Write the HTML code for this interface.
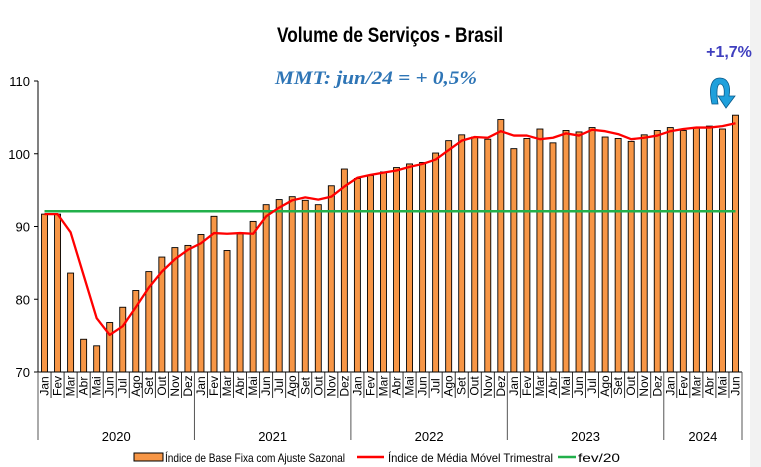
<!DOCTYPE html>
<html><head><meta charset="utf-8"><style>
html,body{margin:0;padding:0;background:#fff}
svg{display:block;font-family:"Liberation Sans Narrow","Liberation Sans",sans-serif}
</style></head><body>
<svg id="chart" width="761" height="467" viewBox="0 0 761 467">
<rect x="750" y="0" width="11" height="467" fill="#f2f2f2"/>
<text x="390" y="42" text-anchor="middle" font-size="21" font-weight="bold" fill="#000" textLength="226" lengthAdjust="spacingAndGlyphs">Volume de Serviços - Brasil</text>
<text x="376" y="84" text-anchor="middle" font-family="Liberation Serif, serif" font-size="19" font-style="italic" font-weight="bold" fill="#2e75b6" textLength="202" lengthAdjust="spacingAndGlyphs">MMT: jun/24 = + 0,5%</text>
<text x="729" y="57" text-anchor="middle" font-family="Liberation Sans, sans-serif" font-size="16" font-weight="bold" fill="#3f3fbf">+1,7%</text>
<g>
<path d="M712,104 C708,86 712,78 720,78 C728,78 731,86 729,96 L735,96 L726,108 L718,96 L724,96 C725,88 723,84 720,84 C717,84 716,92 718,104 Z" fill="#1fa0dc" stroke="#0a5a8a" stroke-width="0.8"/>
</g>
<g id="plot"></g>
<g id="xaxis"></g>
<g id="legend">
<rect x="134" y="453" width="29" height="8" fill="#f79646" stroke="#000" stroke-width="1"/>
<text x="165" y="462" font-size="12" textLength="180" lengthAdjust="spacingAndGlyphs">Índice de Base Fixa com Ajuste Sazonal</text>
<line x1="357" y1="457" x2="384" y2="457" stroke="#ff0000" stroke-width="2.5"/>
<text x="388" y="462" font-size="12" textLength="165" lengthAdjust="spacingAndGlyphs">Índice de Média Móvel Trimestral</text>
<line x1="558" y1="457" x2="576" y2="457" stroke="#22b04b" stroke-width="2.5"/>
<text x="578" y="462" font-size="12" textLength="42" lengthAdjust="spacingAndGlyphs">fev/20</text>
</g>
</svg>
<script>
const months = ["Jan","Fev","Mar","Abr","Mai","Jun","Jul","Ago","Set","Out","Nov","Dez"];
const years = ["2020","2021","2022","2023","2024"];
const indexValues = [91.7,91.7,83.6,74.5,73.6,76.8,78.9,81.2,83.8,85.8,87.1,87.4,
 88.9,91.4,86.7,89.0,90.7,93.0,93.7,94.1,93.6,93.0,95.6,97.9,
 96.6,97.0,97.5,98.1,98.6,98.8,100.1,101.8,102.6,102.3,102.0,104.7,
 100.7,102.1,103.4,101.5,103.2,103.0,103.6,102.3,102.1,101.7,102.6,103.2,
 103.6,103.2,103.6,103.8,103.4,105.3];
const mmtValues = [91.7,91.7,89.2,83.3,77.4,75.1,76.3,78.9,81.6,83.8,85.5,86.8,
 87.7,89.1,89.0,89.1,89.0,91.4,92.6,93.6,94.0,93.7,94.1,95.5,
 96.7,97.1,97.4,97.7,98.2,98.6,99.2,100.5,101.8,102.3,102.2,103.1,
 102.5,102.5,102.0,102.2,102.8,102.5,103.3,103.1,102.7,102.0,102.2,102.5,
 103.1,103.4,103.6,103.6,103.8,104.2];
const fev20Value = 92.1;
const yTicks = [70,80,90,100,110];

const NS="http://www.w3.org/2000/svg";
const X0=38, X1=742, Y0=372, Y1=81, VMIN=70, VMAX=110;
const n=indexValues.length, step=(X1-X0)/n;
const xC=i=>X0+step*(i+0.5);
const yS=v=>Y0-(v-VMIN)/(VMAX-VMIN)*(Y0-Y1);
function mk(tag,attrs,parent){const e=document.createElementNS(NS,tag);for(const k in attrs)e.setAttribute(k,attrs[k]);parent.appendChild(e);return e;}
const plot=document.getElementById('plot'), xa=document.getElementById('xaxis');

// y axis
let ax=mk('line',{x1:X0,y1:Y1,x2:X0,y2:Y0,stroke:'#000','stroke-width':1},plot);


yTicks.forEach(t=>{
  const tk=mk('line',{x1:X0-4,y1:yS(t),x2:X0,y2:yS(t),stroke:'#000'},plot);
  
  
  const tl=mk('text',{x:X0-8,y:yS(t)+5,'text-anchor':'end','font-size':13},plot);
  tl.textContent=t;
  
  
});
// bars
indexValues.forEach((v,i)=>{
  const b=mk('rect',{x:xC(i)-3,y:yS(v),width:6,height:Y0-yS(v),fill:'#f79646',stroke:'#000','stroke-width':0.9},plot);
  
  
});
// green line
let g=mk('line',{x1:xC(0),y1:yS(fev20Value),x2:xC(n-1),y2:yS(fev20Value),stroke:'#22b04b','stroke-width':2.5},plot);


// red line
let r=mk('polyline',{points:mmtValues.map((v,i)=>xC(i)+','+yS(v)).join(' '),fill:'none',stroke:'#ff0000','stroke-width':2.3,'stroke-linejoin':'round'},plot);


// x axis
let xl=mk('line',{x1:X0,y1:Y0,x2:X1,y2:Y0,stroke:'#000'},xa);


for(let i=0;i<=n;i++){
  const x=X0+step*i, yearB=(i%12===0)||i===n;
  const s=mk('line',{x1:x,y1:Y0,x2:x,y2:yearB?440:398,stroke:yearB?'#555':'#000','stroke-width':yearB?1:0.8},xa);
  
  
  if(i<n){
    const t=mk('text',{x:0,y:0,'font-size':12,'text-anchor':'middle',transform:'translate('+(xC(i)+4)+',386) rotate(-90)'},xa);
    t.textContent=months[i%12];
    
    
  }
}
years.forEach((y,k)=>{
  const a=X0+step*12*k, b=Math.min(X0+step*12*(k+1),X1);
  const t=mk('text',{x:(a+b)/2,y:441,'text-anchor':'middle','font-size':13},xa);
  t.textContent=y;
  
  
});
</script>
</body></html>
